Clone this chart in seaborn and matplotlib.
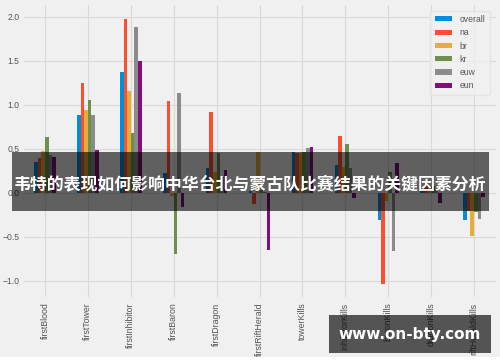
import pandas as pd
import matplotlib.pyplot as plt
import seaborn as sns
from matplotlib.patches import Rectangle

# Feature importance per region
features = ['firstBlood', 'firstTower', 'firstInhibitor', 'firstBaron', 'firstDragon',
            'firstRiftHerald', 'towerKills', 'inhibitorKills', 'baronKills',
            'dragonKills', 'riftHeraldKills']
regions = ['overall', 'na', 'br', 'kr', 'euw', 'eun']

overall = [0.35, 0.89, 1.37, 0.23, 0.28, 0.02, 0.46, 0.32, -0.31, 0.05, -0.31]
na = [0.40, 1.25, 1.98, 1.05, 0.92, -0.12, 0.45, 0.65, -1.03, 0.10, -0.21]
br = [0.48, 0.94, 1.16, -0.03, 0.24, 0.47, 0.45, 0.30, -0.09, 0.03, -0.49]
kr = [0.64, 1.06, 0.68, -0.69, 0.45, 0.03, 0.47, 0.56, 0.24, 0.08, -0.22]
euw = [0.43, 0.88, 1.89, 1.14, 0.18, 0.01, 0.51, 0.28, -0.66, 0.04, -0.30]
eun = [0.41, 0.49, 1.50, -0.16, 0.26, -0.65, 0.52, -0.06, 0.34, -0.11, -0.05]

colors = ['#008fd5', '#fc4f30', '#e5ae38', '#6d904f', '#8b8b8b', '#810f7c']

title = '韦特的表现如何影响中华台北与蒙古队比赛结果的关键因素分析'
watermark = 'www.on-bty.com'

# long form table for seaborn
series = [overall, na, br, kr, euw, eun]
rows = []
for reg, vals in zip(regions, series):
    for feat, v in zip(features, vals):
        rows.append({'feature': feat, 'region': reg, 'value': v})
df = pd.DataFrame(rows)

# fivethirtyeight-like look
sns.set_style('whitegrid', {
    'axes.facecolor': '#f0f0f0',
    'figure.facecolor': '#f0f0f0',
    'grid.color': '#d9d9d9',
    'axes.edgecolor': '#f0f0f0',
})
plt.rcParams['font.family'] = ['Liberation Sans', 'Noto Sans CJK SC', 'DejaVu Sans']
plt.rcParams['axes.spines.left'] = False
plt.rcParams['axes.spines.right'] = False
plt.rcParams['axes.spines.top'] = False
plt.rcParams['axes.spines.bottom'] = False

fig = plt.figure(figsize=(5, 3.62), dpi=100)
ax = fig.add_axes([0.047, 0.18, 0.944, 0.805])

sns.barplot(data=df, x='feature', y='value', hue='region', hue_order=regions,
            order=features, palette=colors, width=0.5, saturation=1,
            errorbar=None, linewidth=0, ax=ax)

ax.set_xlim(-0.5, len(features) - 0.5)
ax.set_ylim(-1.18, 2.13)
ax.set_yticks([-1.0, -0.5, 0.0, 0.5, 1.0, 1.5, 2.0])
ax.xaxis.grid(True, color='#d9d9d9', linewidth=0.8)
ax.yaxis.grid(True, color='#d9d9d9', linewidth=0.8)
ax.set_axisbelow(True)
ax.set_xlabel('')
ax.set_ylabel('')
ax.tick_params(axis='x', labelrotation=90, labelsize=6.3, colors='#555555', length=0, pad=4)
ax.tick_params(axis='y', labelsize=6.2, colors='#555555', length=0, pad=3)

leg = ax.legend(loc='upper right', fontsize=6.2, frameon=True, handlelength=2.0,
                handleheight=0.55, labelspacing=0.5, borderpad=0.5,
                handletextpad=0.9, bbox_to_anchor=(0.997, 0.997))
leg.get_frame().set_facecolor('#f0f0f0')
leg.get_frame().set_edgecolor('#e2e2e2')
for t in leg.get_texts():
    t.set_color('#555555')

# overlay title banner
fig.patches.append(Rectangle((12 / 500, 1 - 211 / 362), 477 / 500, 59 / 362,
                             transform=fig.transFigure, facecolor='black',
                             alpha=0.6, edgecolor='none', zorder=5))
fig.text(250 / 500, 1 - 184 / 362, title, color='white', fontsize=12.2,
         fontweight='bold', ha='center', va='center',
         family=['Noto Sans CJK SC', 'DejaVu Sans'], zorder=6)

# watermark box
fig.patches.append(Rectangle((329 / 500, 1 - 353 / 362), 162 / 500, 38 / 362,
                             transform=fig.transFigure, facecolor='black',
                             alpha=0.65, edgecolor='none', zorder=5))
fig.text(410 / 500, 1 - 334 / 362, watermark, color='white', fontsize=11,
         fontweight='bold', ha='center', va='center',
         family=['DejaVu Sans'], zorder=6)

# white strip at the bottom edge
fig.patches.append(Rectangle((0, 0), 1, 5 / 362, transform=fig.transFigure,
                             facecolor='white', edgecolor='none', zorder=4))

fig.savefig('out.png', dpi=100, facecolor=fig.get_facecolor())
